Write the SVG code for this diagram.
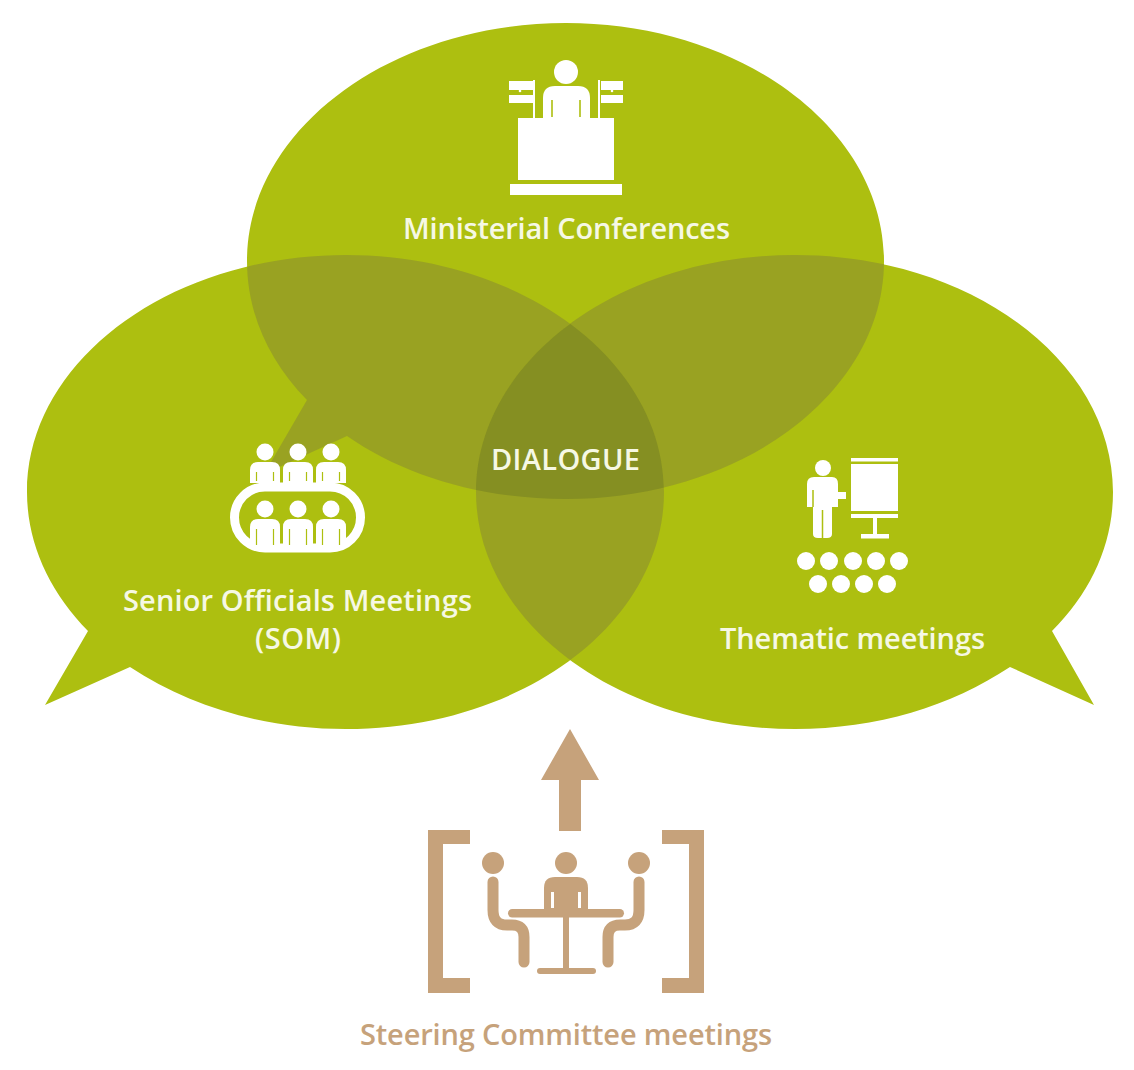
<svg xmlns="http://www.w3.org/2000/svg" xmlns:xlink="http://www.w3.org/1999/xlink" width="1134" height="1070" viewBox="0 0 1134 1070">
<style>
.g{fill:#adbf10}.o2{fill:#99a222}.o3{fill:#858f22}
.w{fill:#fff}
.t{fill:#c6a27b}
text{font-family:"Open Sans","Liberation Sans",sans-serif;font-weight:600;text-anchor:middle;font-size:29px}
.lbl{fill:#f6f8e4}
</style>
<defs>
<path id="bt" d="M247 261C247 130 390 23 566 23S884 130 884 261S742 499 566 499C480 499 403 475 347 436L264 474L307 400C268 360 247 312 247 261Z"/>
<path id="bl" d="M27 492C27 361 170 255 346 255S664 361 664 492S522 729 346 729C264 729 189 706 130 667L45 705L88 631C49 591 27 543 27 492Z"/>
<path id="br" d="M476 492C476 361 619 255 795 255S1113 361 1113 492C1113 543 1092 591 1052 631L1094 705L1010 667C951 706 877 729 795 729C619 729 476 623 476 492Z"/>
<clipPath id="cT"><use xlink:href="#bt"/></clipPath>
<clipPath id="cL"><use xlink:href="#bl"/></clipPath>
<clipPath id="cR"><use xlink:href="#br"/></clipPath>
<g id="person"><circle cx="0" cy="-10" r="8.500" class="w"/><path class="w" d="M-15 21V8Q-15 0 -7 0H7Q15 0 15 8V21Z"/><path d="M-8.500 10V19M8.500 10V19" fill="none" stroke="#adbf10" stroke-width="1.200"/></g>
<g id="person2"><circle cx="0" cy="-10" r="8.500" class="w"/><path class="w" d="M-15 28V8Q-15 0 -7 0H7Q15 0 15 8V28Z"/><path d="M-8.500 10V26M8.500 10V26" fill="none" stroke="#adbf10" stroke-width="1.200"/></g>
</defs>
<g id="bubbles">
<use xlink:href="#bl" class="g"/><use xlink:href="#br" class="g"/><use xlink:href="#bt" class="g"/>
<g clip-path="url(#cT)"><use xlink:href="#bl" class="o2"/><use xlink:href="#br" class="o2"/></g>
<g clip-path="url(#cL)"><use xlink:href="#br" class="o2"/></g>
<g clip-path="url(#cT)"><g clip-path="url(#cL)"><use xlink:href="#br" class="o3"/></g></g>
</g>
<g id="node-ministerial">
<circle cx="566" cy="72" r="12" class="w"/>
<path class="w" d="M543 120V98Q543 86 555 86H578Q590 86 590 98V120Z"/>
<path d="M552 100V117M580 100V117" stroke="#adbf10" stroke-width="1.600" fill="none"/>
<rect x="518" y="118" width="96" height="62" class="w"/>
<rect x="510" y="184" width="112" height="11" class="w"/>
<path class="w" d="M509 81H533V90H509ZM509 95H533V103H509ZM533 80H535V118H533ZM601 81H623V90H601ZM601 95H623V103H601ZM598 80H600V118H598Z"/>
<circle cx="520" cy="91" r="1.300" class="w"/><circle cx="612" cy="91" r="1.300" class="w"/>
<text x="566.500" y="239" class="lbl" textLength="327">Ministerial Conferences</text>
</g>
<g id="node-som">
<use xlink:href="#person" x="265" y="462"/><use xlink:href="#person" x="298" y="462"/><use xlink:href="#person" x="331" y="462"/>
<rect x="234.500" y="487" width="126" height="61" rx="30.500" fill="none" stroke="#fff" stroke-width="9"/>
<use xlink:href="#person2" x="265" y="519"/><use xlink:href="#person2" x="298" y="519"/><use xlink:href="#person2" x="331" y="519"/>
<text x="297.500" y="611" class="lbl" textLength="349">Senior Officials Meetings</text>
<text x="298" y="649" class="lbl" textLength="86">(SOM)</text>
</g>
<g id="node-thematic">
<circle cx="823" cy="468" r="8" class="w"/>
<path class="w" d="M807 507V484Q807 477 814 477H832Q838 477 838 484V492H846V499H838V507H832V534Q832 538 827 538H818Q813 538 813 534V507Z"/>
<path d="M813 490V507M822.500 510V538" stroke="#adbf10" stroke-width="1.500" fill="none"/>
<rect x="851" y="458" width="47" height="3.500" class="w"/>
<rect x="851" y="464" width="47" height="47" class="w"/>
<rect x="851" y="514" width="47" height="4" class="w"/>
<rect x="873" y="518" width="4" height="16" class="w"/>
<rect x="861" y="534" width="28" height="4.500" class="w"/>
<g class="w"><circle cx="806" cy="561" r="9"/><circle cx="829" cy="561" r="9"/><circle cx="853" cy="561" r="9"/><circle cx="876" cy="561" r="9"/><circle cx="899" cy="561" r="9"/><circle cx="818" cy="584" r="9"/><circle cx="841" cy="584" r="9"/><circle cx="864" cy="584" r="9"/><circle cx="887" cy="584" r="9"/></g>
<text x="852.500" y="649" class="lbl" textLength="265">Thematic meetings</text>
</g>
<g id="node-dialogue"><text x="565.500" y="470" class="lbl" textLength="149">DIALOGUE</text></g>
<g id="connectors"><path class="t" d="M570 729L599 780H581V831H559V780H541Z"/></g>
<g id="node-steering">
<path class="t" d="M428 830H470V844H443V978H470V993H428ZM704 830H662V844H689V978H662V993H704Z"/>
<circle cx="493" cy="863" r="11" class="t"/><circle cx="566" cy="863" r="11" class="t"/><circle cx="639" cy="863" r="11" class="t"/>
<path class="t" d="M544 910V888Q544 877 555 877H577Q588 877 588 888V910Z"/>
<path d="M552.500 892V908M579.500 892V908" stroke="#fff" stroke-width="3" fill="none"/>
<rect x="508" y="909" width="116" height="8.500" rx="4.200" class="t"/>
<rect x="563" y="917" width="6" height="52" class="t"/>
<rect x="537" y="968" width="59" height="6" rx="3" class="t"/>
<path d="M493 882V910Q493 925 507 925H512Q524 925 524 937V962M639 882V910Q639 925 625 925H620Q608 925 608 937V962" fill="none" stroke="#c6a27b" stroke-width="11" stroke-linecap="round"/>
<text x="566" y="1045" class="t" textLength="412">Steering Committee meetings</text>
</g>
</svg>
